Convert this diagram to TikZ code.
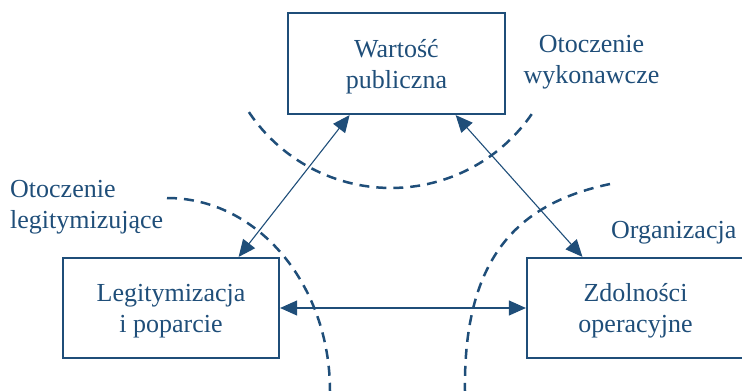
\documentclass[tikz,border=0pt]{standalone}
\usepackage{fontspec}
\setmainfont{Liberation Serif}
\usetikzlibrary{arrows.meta,calc}
\definecolor{navy}{RGB}{31,78,121}
\begin{document}
\begin{tikzpicture}[x=1pt,y=-1pt,
  panel/.style={draw=navy,line width=2.2pt,minimum width=217pt,minimum height=101pt,inner sep=0pt},
  caption/.style={text=navy,font=\fontsize{26}{31}\selectfont,inner sep=0pt,align=center},
  link/.style={navy,line width=1.1pt,{Triangle[length=17pt,width=15pt]}-{Triangle[length=17pt,width=15pt]}},
  boundary/.style={navy,line width=2.5pt,dash pattern=on 10pt off 7pt}]
\useasboundingbox (0,0) rectangle (742,391);
\clip (0,0) rectangle (742,391);

% environment boundaries
\draw[boundary] (248.9,112.1) arc[start angle=146.2,end angle=32.5,radius=171];
\draw[boundary] (167,198) .. controls (258,198) and (330,285) .. (330,391);
\draw[boundary] (610,184) .. controls (525,202) and (463,250) .. (465,391);

% the three boxes
\node[panel] (wp) at (396.5,63.5) {};
\node[panel,minimum width=216pt,minimum height=100pt] (lg) at (171,308) {};
\node[panel,minimum height=100pt] (zo) at (635.5,308) {};

\node[caption] (wpt) at ([yshift=-3pt]wp.center) {Wartość\\publiczna};
\node[caption] (lgt) at ([yshift=-3pt]lg.center) {Legitymizacja\\i poparcie};
\node[caption] (zot) at ([yshift=-3pt]zo.center) {Zdolności\\operacyjne};

% environment labels
\node[caption] (ow) at (591.5,62.5) {Otoczenie\\wykonawcze};
\node[caption,align=left,anchor=west] (ol) at (10,207.5) {Otoczenie\\legitymizujące};
\node[caption,anchor=base west] (org) at (611,238) {Organizacja};

% two-way links
\draw[link] ($(wp.south west)!0.286!(wp.south east)$) -- ($(lg.north west)!0.81!(lg.north east)$);
\draw[link] ($(wp.south west)!0.77!(wp.south east)$) -- ($(zo.north west)!0.258!(zo.north east)$);
\draw[link] (lg.east) -- (zo.west);
\end{tikzpicture}
\end{document}
